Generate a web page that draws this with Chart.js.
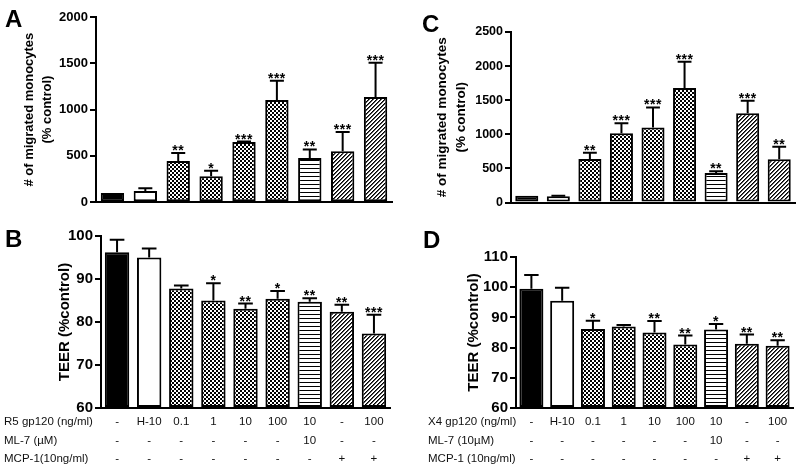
<!DOCTYPE html>
<html>
<head>
<meta charset="utf-8">
<script src="https://cdn.jsdelivr.net/npm/chart.js@4.4.0/dist/chart.umd.min.js"></script>
<style>
  html, body { margin: 0; padding: 0; background: #fff; }
  body { width: 800px; height: 466px; position: relative; overflow: hidden; }
  canvas { position: absolute; }
</style>
</head>
<body>
<canvas id="chartA" width="400" height="212" style="left:0;top:0"></canvas>
<canvas id="chartC" width="400" height="212" style="left:400px;top:0"></canvas>
<canvas id="chartB" width="400" height="248" style="left:0;top:218px"></canvas>
<canvas id="chartD" width="400" height="248" style="left:400px;top:218px"></canvas>
<script>
// treatment table (one column per bar)
const gp120Row = ['-', 'H-10', '0.1', '1', '10', '100', '10', '-', '100'];
const ml7Row = ['-', '-', '-', '-', '-', '-', '10', '-', '-'];
const mcp1Row = ['-', '-', '-', '-', '-', '-', '-', '+', '+'];
const rowHeadersB = ['R5 gp120 (ng/ml)', 'ML-7 (\u00b5M)', 'MCP-1(10ng/ml)'];
const rowHeadersD = ['X4 gp120 (ng/ml)', 'ML-7 (10\u00b5M)', 'MCP-1 (10ng/ml)'];

// A: migration, R5 gp120
const migrationR5 = [100, 121, 446, 281, 649, 1105, 478, 549, 1137];
const migrationR5Err = [0, 29, 85, 58, 6, 207, 92, 210, 368];
const migrationR5Stars = ['', '', '**', '*', '***', '***', '**', '***', '***'];

// C: migration, X4 gp120
const migrationX4 = [100, 92, 636, 1015, 1100, 1680, 432, 1310, 634];
const migrationX4Err = [0, 6, 92, 148, 293, 383, 26, 182, 183];
const migrationX4Stars = ['', '', '**', '***', '***', '***', '**', '***', '**'];

// B: TEER, R5 gp120
const teerR5 = [96.2, 95.0, 87.8, 85.0, 83.1, 85.4, 84.7, 82.4, 77.3];
const teerR5Err = [2.9, 2.1, 0.7, 4.0, 1.2, 1.8, 0.8, 1.6, 4.4];
const teerR5Stars = ['', '', '', '*', '**', '*', '**', '**', '***'];

// D: TEER, X4 gp120
const teerX4 = [99.5, 95.5, 86.2, 87.0, 85.0, 81.0, 86.0, 81.3, 80.6];
const teerX4Err = [4.5, 4.3, 2.7, 0.5, 3.8, 3.0, 1.8, 3.0, 1.8];
const teerX4Stars = ['', '', '*', '', '**', '**', '*', '**', '**'];

const FONT = "'Liberation Sans', Arial, sans-serif";

function makePattern(kind) {
  const c = document.createElement('canvas');
  const g = c.getContext('2d');
  c.width = 4; c.height = 4;
  g.fillStyle = '#fff'; g.fillRect(0, 0, 4, 4);
  g.fillStyle = '#000';
  if (kind === 'check') {
    g.fillRect(0, 0, 2, 2); g.fillRect(2, 2, 2, 2);
  } else if (kind === 'lines') {
    g.fillRect(0, 0, 4, 1);
  } else {
    for (let i = 0; i < 4; i++) g.fillRect(3 - i, i, 1, 1);
    g.fillStyle = '#555';
    for (let i = 0; i < 4; i++) g.fillRect((4 - i) % 4, i, 1, 1);
  }
  return g.createPattern(c, 'repeat');
}

const check = makePattern('check');
const lines = makePattern('lines');
const hatch = makePattern('hatch');
const barFills = ['#000', '#fff', check, check, check, check, lines, hatch, hatch];

function decorations(cfg) {
  return {
    id: 'decorations',
    afterDatasetsDraw(chart) {
      const { ctx, scales: { y } } = chart;
      const meta = chart.getDatasetMeta(0);
      ctx.save();
      ctx.strokeStyle = '#000';
      ctx.lineWidth = 2;
      ctx.fillStyle = '#000';
      ctx.font = 'bold 14px ' + FONT;
      ctx.letterSpacing = '0.5px';
      ctx.textAlign = 'center';
      ctx.textBaseline = 'alphabetic';
      meta.data.forEach((bar, i) => {
        const e = cfg.errors[i];
        let top = bar.y;
        if (e > 0) {
          top = y.getPixelForValue(cfg.values[i] + e);
          const half = bar.width * 0.3;
          ctx.beginPath();
          ctx.moveTo(bar.x, bar.y);
          ctx.lineTo(bar.x, top);
          ctx.moveTo(bar.x - half, top);
          ctx.lineTo(bar.x + half, top);
          ctx.stroke();
        }
        if (cfg.stars[i]) ctx.fillText(cfg.stars[i], bar.x, top + 2);
      });
      ctx.restore();
    },
    afterDraw(chart) {
      const { ctx } = chart;
      ctx.save();
      ctx.fillStyle = '#000';
      ctx.font = 'bold 24px ' + FONT;
      ctx.textBaseline = 'alphabetic';
      ctx.fillText(cfg.letter, cfg.letterX, cfg.letterY);
      if (cfg.headers) {
        const xs = chart.scales.x;
        ctx.font = '11.5px ' + FONT;
        ctx.fillStyle = '#111';
        ctx.textBaseline = 'middle';
        cfg.headers.forEach((h, r) => {
          ctx.fillText(h, cfg.headerX, xs.top + 5 + 18.4 * (r + 0.5));
        });
      }
      ctx.restore();
    },
  };
}

function panelChart(id, cfg) {
  const withTable = !!cfg.headers;
  return new Chart(document.getElementById(id), {
    type: 'bar',
    data: {
      labels: gp120Row.map((v, i) => [v, ml7Row[i], mcp1Row[i]]),
      datasets: [{
        data: cfg.values,
        backgroundColor: barFills,
        borderColor: '#000',
        borderWidth: 2,
        borderSkipped: false,
        barPercentage: cfg.barPct,
        categoryPercentage: 1,
        base: cfg.min,
      }],
    },
    options: {
      responsive: false,
      animation: false,
      layout: { padding: cfg.padding },
      plugins: {
        legend: { display: false },
        tooltip: { enabled: false },
      },
      scales: {
        x: {
          grid: { display: false, drawTicks: false },
          border: { display: true, color: '#000', width: 2 },
          ticks: {
            display: withTable,
            autoSkip: false,
            maxRotation: 0,
            padding: 5,
            color: '#111',
            font: { family: FONT, size: 11.5, lineHeight: 1.6 },
          },
          afterFit(s) { if (withTable) s.height = 58; },
        },
        y: {
          min: cfg.min,
          max: cfg.max,
          ticks: {
            stepSize: cfg.step,
            color: '#000',
            padding: 2,
            font: { family: FONT, size: cfg.tickSize, weight: 'bold' },
            callback: (v) => String(v),
          },
          grid: { drawOnChartArea: false, color: '#000', lineWidth: 2, tickLength: 6 },
          border: { color: '#000', width: 2 },
          title: {
            display: true,
            text: cfg.title,
            color: '#000',
            padding: { top: cfg.titlePad, bottom: 0 },
            font: { family: FONT, size: cfg.titleSize, weight: 'bold', lineHeight: cfg.titleLH },
          },
          afterFit(s) { s.width = cfg.yWidth; },
        },
      },
    },
    plugins: [decorations(cfg)],
  });
}

panelChart('chartA', {
  values: migrationR5, errors: migrationR5Err, stars: migrationR5Stars,
  min: 0, max: 2000, step: 500, tickSize: 13, barPct: 0.71,
  padding: { top: 17, right: 8, bottom: 8, left: 0 }, yWidth: 96,
  title: ['# of migrated monocytes', '(% control)'], titleSize: 13, titleLH: 1.35, titlePad: 21,
  letter: 'A', letterX: 5, letterY: 27,
});

panelChart('chartC', {
  values: migrationX4, errors: migrationX4Err, stars: migrationX4Stars,
  min: 0, max: 2500, step: 500, tickSize: 12.5, barPct: 0.73,
  padding: { top: 32, right: 5, bottom: 8, left: 0 }, yWidth: 111,
  title: ['# of migrated monocytes', '(% control)'], titleSize: 13.5, titleLH: 1.41, titlePad: 33,
  letter: 'C', letterX: 22, letterY: 32,
});

panelChart('chartB', {
  values: teerR5, errors: teerR5Err, stars: teerR5Stars,
  min: 60, max: 100, step: 10, tickSize: 15, barPct: 0.76,
  padding: { top: 18, right: 10, bottom: 0, left: 0 }, yWidth: 101,
  title: 'TEER (%control)', titleSize: 15, titleLH: 1.2, titlePad: 56,
  letter: 'B', letterX: 5, letterY: 29,
  headers: rowHeadersB, headerX: 4,
});

panelChart('chartD', {
  values: teerX4, errors: teerX4Err, stars: teerX4Stars,
  min: 60, max: 110, step: 10, tickSize: 15, barPct: 0.78,
  padding: { top: 39, right: 7, bottom: 0, left: 0 }, yWidth: 116,
  title: 'TEER (%control)', titleSize: 15, titleLH: 1.2, titlePad: 65,
  letter: 'D', letterX: 23, letterY: 30,
  headers: rowHeadersD, headerX: 28,
});
</script>
</body>
</html>
